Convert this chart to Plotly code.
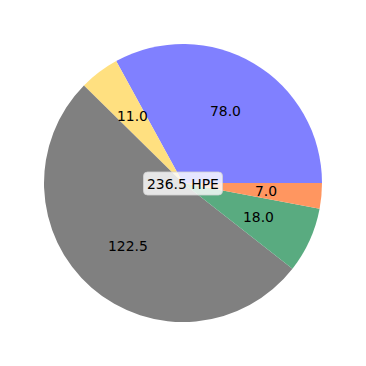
import math
import plotly.graph_objects as go

labels = ["A", "B", "C", "D", "E"]
values = [78.0, 11.0, 122.5, 18.0, 7.0]
colors = ["#8080ff", "#ffe080", "#808080", "#59ab80", "#ff9660"]
unit = "HPE"

total = sum(values)
dom = [44 / 366, 322 / 366]
# plotly's counterclockwise pies place the first slice clockwise of `rotation`;
# shift so the first slice starts at 3 o'clock like matplotlib
rot = 90 - 360 * values[0] / total
fig = go.Figure(go.Pie(
    labels=labels, values=values, sort=False, direction="counterclockwise",
    rotation=rot, marker=dict(colors=colors, line=dict(width=0)),
    textinfo="none", hoverinfo="none", showlegend=False,
    domain=dict(x=dom, y=dom),
))

r = (dom[1] - dom[0]) / 2
cx = cy = 0.5
anns = []
start = 0.0
for v in values:
    mid = start + v / total * 360 / 2
    start += v / total * 360
    a = math.radians(mid)
    anns.append(dict(x=cx + 0.6 * r * math.cos(a), y=cy + 0.6 * r * math.sin(a),
                     xref="paper", yref="paper", text=f"{v:.1f}", showarrow=False,
                     font=dict(family="DejaVu Sans", size=13.9, color="black"),
                     xanchor="center", yanchor="middle"))
anns.append(dict(x=0.5, y=0.497, xref="paper", yref="paper", text=f"{total:.1f} {unit}",
                 showarrow=False, font=dict(family="DejaVu Sans", size=13.9, color="black"),
                 xanchor="center", yanchor="middle"))

w, h, rr = 79 / 2, 23 / 2, 4
path = (f"M {-w+rr},{-h} L {w-rr},{-h} Q {w},{-h} {w},{-h+rr} L {w},{h-rr} Q {w},{h} {w-rr},{h} "
        f"L {-w+rr},{h} Q {-w},{h} {-w},{h-rr} L {-w},{-h+rr} Q {-w},{-h} {-w+rr},{-h} Z")
fig.add_shape(type="path", path=path, xref="paper", yref="paper",
              xsizemode="pixel", ysizemode="pixel", xanchor=0.5, yanchor=0.4986,
              fillcolor="rgba(255,255,255,0.8)", line=dict(color="rgba(210,210,210,0.8)", width=1))

fig.update_layout(width=366, height=366, margin=dict(l=0, r=0, t=0, b=0),
                  paper_bgcolor="white", plot_bgcolor="white", annotations=anns)
fig.write_html("out.html")
